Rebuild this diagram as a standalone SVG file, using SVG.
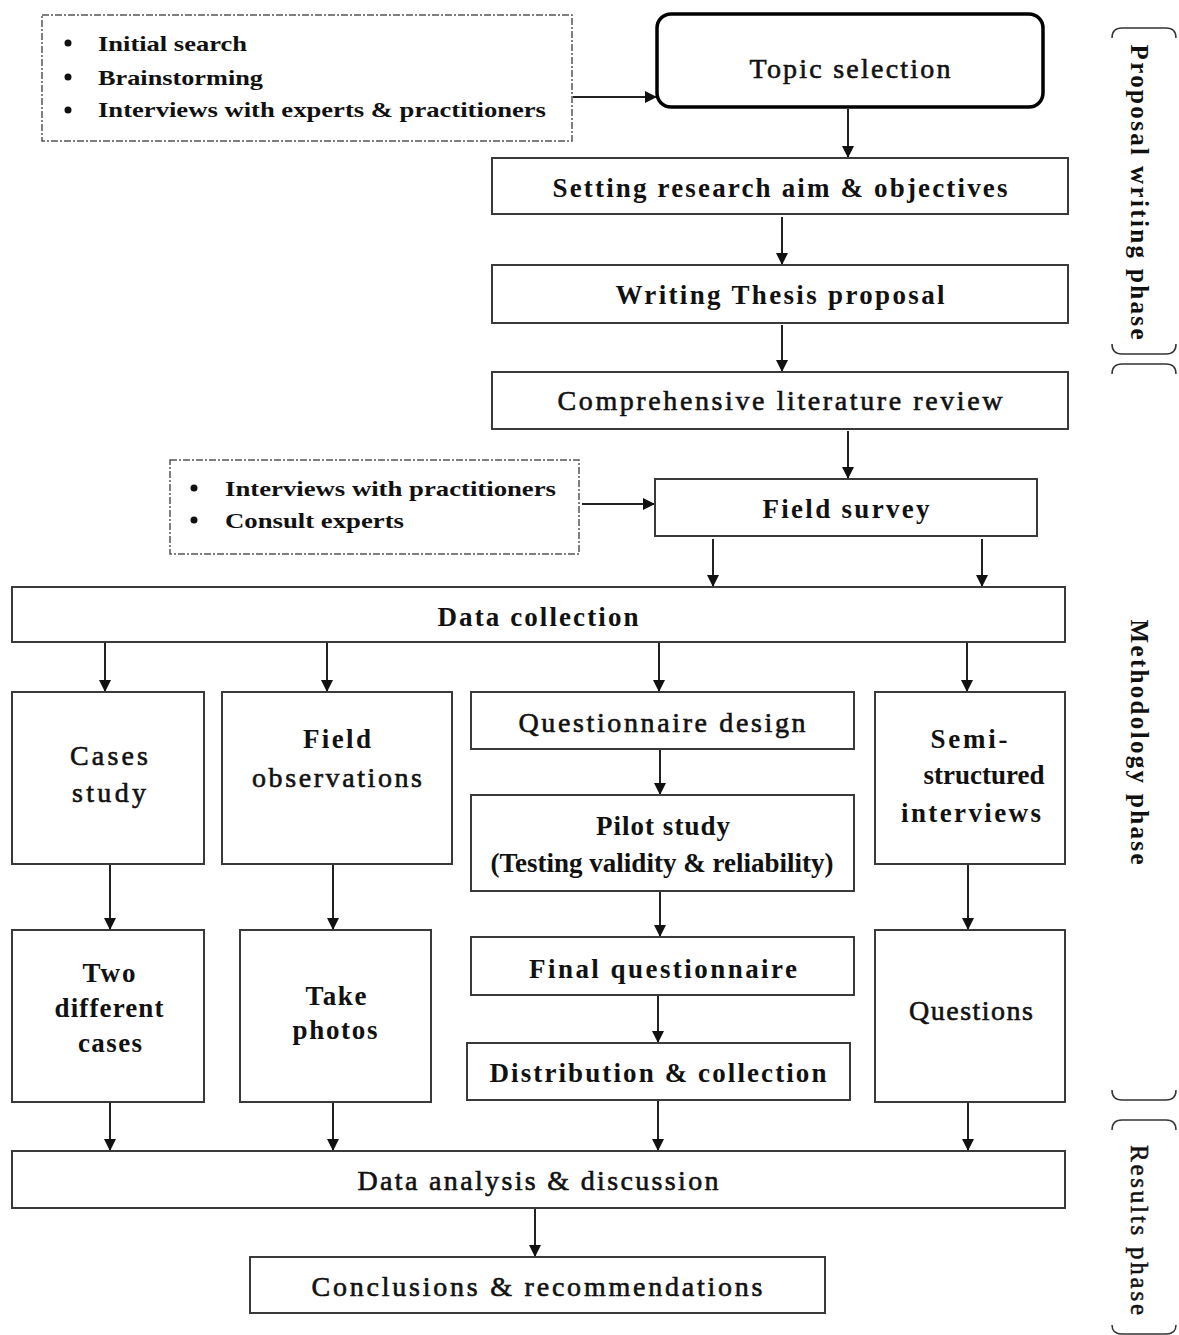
<svg xmlns="http://www.w3.org/2000/svg" width="1179" height="1335" viewBox="0 0 1179 1335">
<defs>
<marker id="ah" markerWidth="12" markerHeight="12" refX="11" refY="6" orient="auto" markerUnits="userSpaceOnUse">
<path d="M0,0 L12,6 L0,12 Z" fill="#111"/>
</marker>
<style>
.box{fill:#fff;stroke:#3a3a3a;stroke-width:2}
.dash{fill:#fff;stroke:#555;stroke-width:1.5;stroke-dasharray:7 2 2 2}
.t{font-family:"Liberation Serif","Times New Roman",serif;font-size:27px;fill:#111;text-anchor:middle}
.b{font-weight:bold}
.m{font-size:28px;stroke:#111;stroke-width:0.6}
.bl{font-family:"Liberation Serif","Times New Roman",serif;font-size:22px;font-weight:bold;fill:#111}
.c{stroke:#222;stroke-width:2;fill:none;marker-end:url(#ah)}
.br{stroke:#333;stroke-width:1.5;fill:none}
.ph{font-family:"Liberation Serif","Times New Roman",serif;font-size:25px;fill:#111;text-anchor:middle}
</style>
</defs>
<rect width="1179" height="1335" fill="#fff"/>

<g id="connectors">
<path class="c" d="M573,97 L656,97"/>
<path class="c" d="M848,109 L848,157"/>
<path class="c" d="M782,217 L782,264"/>
<path class="c" d="M782,325 L782,371"/>
<path class="c" d="M848,431 L848,478"/>
<path class="c" d="M582,504 L654,504"/>
<path class="c" d="M713,539 L713,586"/>
<path class="c" d="M982,539 L982,586"/>
<path class="c" d="M105,643 L105,691"/>
<path class="c" d="M327,643 L327,691"/>
<path class="c" d="M659,643 L659,691"/>
<path class="c" d="M967,643 L967,691"/>
<path class="c" d="M660,750 L660,794"/>
<path class="c" d="M660,892 L660,936"/>
<path class="c" d="M658,996 L658,1042"/>
<path class="c" d="M110,865 L110,929"/>
<path class="c" d="M333,865 L333,929"/>
<path class="c" d="M968,865 L968,929"/>
<path class="c" d="M110,1103 L110,1150"/>
<path class="c" d="M333,1103 L333,1150"/>
<path class="c" d="M658,1101 L658,1150"/>
<path class="c" d="M968,1103 L968,1150"/>
<path class="c" d="M535,1209 L535,1256"/>
</g>

<g id="inputs1">
<rect class="dash" x="42" y="15" width="530" height="126"/>
<circle cx="68" cy="43" r="3.5" fill="#111"/>
<circle cx="68" cy="77" r="3.5" fill="#111"/>
<circle cx="68" cy="110" r="3.5" fill="#111"/>
<text class="bl" x="98" y="51" textLength="149" lengthAdjust="spacingAndGlyphs">Initial search</text>
<text class="bl" x="98" y="85" textLength="165" lengthAdjust="spacingAndGlyphs">Brainstorming</text>
<text class="bl" x="98" y="117" textLength="448" lengthAdjust="spacingAndGlyphs">Interviews with experts &amp; practitioners</text>
</g>

<g id="topic">
<rect x="657" y="14" width="386" height="93" rx="14" fill="#fff" stroke="#000" stroke-width="3.5"/>
<text class="t m" x="850" y="78" textLength="201" lengthAdjust="spacing">Topic selection</text>
</g>

<g id="aim">
<rect class="box" x="492" y="158" width="576" height="56"/>
<text class="t b" x="780" y="197" textLength="455" lengthAdjust="spacing">Setting research aim &amp; objectives</text>
</g>

<g id="proposal">
<rect class="box" x="492" y="265" width="576" height="58"/>
<text class="t b" x="780" y="304" textLength="329" lengthAdjust="spacing">Writing Thesis proposal</text>
</g>

<g id="literature">
<rect class="box" x="492" y="372" width="576" height="57"/>
<text class="t m" x="780" y="410" textLength="445" lengthAdjust="spacing">Comprehensive literature review</text>
</g>

<g id="inputs2">
<rect class="dash" x="170" y="460" width="409" height="94"/>
<circle cx="194" cy="488" r="3.5" fill="#111"/>
<circle cx="194" cy="520" r="3.5" fill="#111"/>
<text class="bl" x="225" y="496" textLength="331" lengthAdjust="spacingAndGlyphs">Interviews with practitioners</text>
<text class="bl" x="225" y="528" textLength="179" lengthAdjust="spacingAndGlyphs">Consult experts</text>
</g>

<g id="fieldsurvey">
<rect class="box" x="655" y="479" width="382" height="57"/>
<text class="t b" x="846" y="518" textLength="167" lengthAdjust="spacing">Field survey</text>
</g>

<g id="datacollection">
<rect class="box" x="12" y="587" width="1053" height="55"/>
<text class="t b" x="538" y="626" textLength="201" lengthAdjust="spacing">Data collection</text>
</g>

<g id="cases">
<rect class="box" x="12" y="692" width="192" height="172"/>
<text class="t m" x="109" y="765" textLength="78" lengthAdjust="spacing">Cases</text>
<text class="t m" x="109" y="802" textLength="74" lengthAdjust="spacing">study</text>
</g>

<g id="fieldobs">
<rect class="box" x="222" y="692" width="230" height="172"/>
<text class="t b" x="337" y="748" textLength="68" lengthAdjust="spacing">Field</text>
<text class="t m" x="337" y="787" textLength="170" lengthAdjust="spacing">observations</text>
</g>

<g id="qdesign">
<rect class="box" x="471" y="692" width="383" height="57"/>
<text class="t m" x="662" y="732" textLength="287" lengthAdjust="spacing">Questionnaire design</text>
</g>

<g id="semi">
<rect class="box" x="875" y="692" width="190" height="172"/>
<text class="t b" x="969" y="748" textLength="77" lengthAdjust="spacing">Semi-</text>
<text class="t b" x="984" y="784">structured</text>
<text class="t b" x="971" y="822" textLength="140" lengthAdjust="spacing">interviews</text>
</g>

<g id="pilot">
<rect class="box" x="471" y="795" width="383" height="96"/>
<text class="t b" x="663" y="835" textLength="134" lengthAdjust="spacing">Pilot study</text>
<text class="t b" x="662" y="872" font-size="23" textLength="343" lengthAdjust="spacing">(Testing validity &amp; reliability)</text>
</g>

<g id="finalq">
<rect class="box" x="471" y="937" width="383" height="58"/>
<text class="t b" x="663" y="978" textLength="268" lengthAdjust="spacing">Final questionnaire</text>
</g>

<g id="distribution">
<rect class="box" x="467" y="1043" width="383" height="57"/>
<text class="t b" x="658" y="1082" textLength="337" lengthAdjust="spacing">Distribution &amp; collection</text>
</g>

<g id="twocases">
<rect class="box" x="12" y="930" width="192" height="172"/>
<text class="t b" x="109" y="982" textLength="53" lengthAdjust="spacing">Two</text>
<text class="t b" x="109" y="1017" textLength="109" lengthAdjust="spacing">different</text>
<text class="t b" x="110" y="1052" textLength="64" lengthAdjust="spacing">cases</text>
</g>

<g id="photos">
<rect class="box" x="240" y="930" width="191" height="172"/>
<text class="t b" x="336" y="1005" textLength="61" lengthAdjust="spacing">Take</text>
<text class="t b" x="335" y="1039" textLength="85" lengthAdjust="spacing">photos</text>
</g>

<g id="questions">
<rect class="box" x="875" y="930" width="190" height="172"/>
<text class="t m" x="971" y="1020" textLength="124" lengthAdjust="spacing">Questions</text>
</g>

<g id="analysis">
<rect class="box" x="12" y="1151" width="1053" height="57"/>
<text class="t m" x="538" y="1190" textLength="361" lengthAdjust="spacing">Data analysis &amp; discussion</text>
</g>

<g id="conclusions">
<rect class="box" x="250" y="1257" width="575" height="56"/>
<text class="t m" x="537" y="1296" textLength="451" lengthAdjust="spacing">Conclusions &amp; recommendations</text>
</g>

<g id="phases">
<path class="br" d="M1112,38 Q1112,28 1122,28 L1166,28 Q1176,28 1176,38"/>
<path class="br" d="M1112,344 Q1112,354 1122,354 L1166,354 Q1176,354 1176,344"/>
<path class="br" d="M1112,374 Q1112,364 1122,364 L1166,364 Q1176,364 1176,374"/>
<path class="br" d="M1112,1090 Q1112,1100 1122,1100 L1166,1100 Q1176,1100 1176,1090"/>
<path class="br" d="M1112,1130 Q1112,1120 1122,1120 L1166,1120 Q1176,1120 1176,1130"/>
<path class="br" d="M1112,1325 Q1112,1334 1122,1334 L1166,1334 Q1176,1334 1176,1325"/>
<text class="ph" font-weight="bold" transform="translate(1131,192) rotate(90)" textLength="295" lengthAdjust="spacing">Proposal writing phase</text>
<text class="ph" font-weight="bold" transform="translate(1131,742) rotate(90)" textLength="245" lengthAdjust="spacing">Methodology phase</text>
<text class="ph" stroke="#111" stroke-width="0.5" transform="translate(1131,1230) rotate(90)" textLength="170" lengthAdjust="spacing">Results phase</text>
</g>
</svg>
